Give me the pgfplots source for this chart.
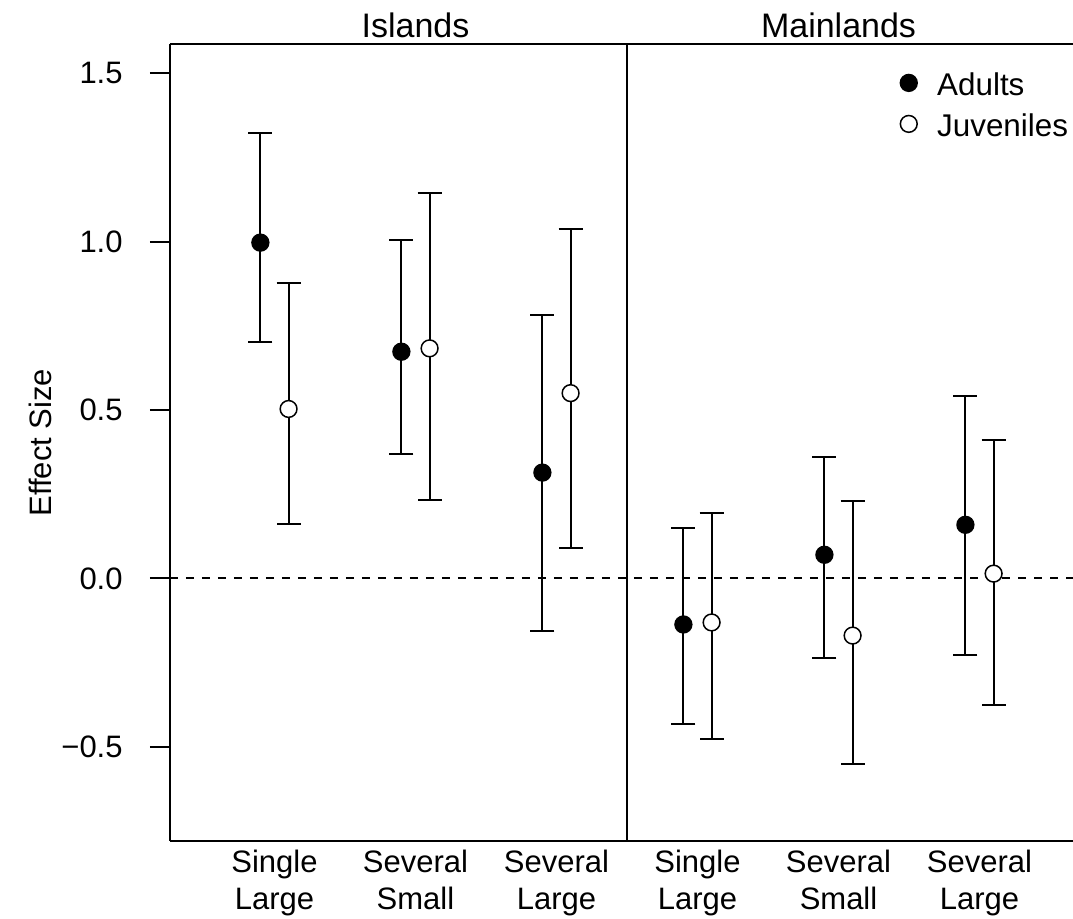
\documentclass[border=0pt]{standalone}
\usepackage{fontspec}
\setmainfont{Liberation Sans}
\usepackage{pgfplots}
\pgfplotsset{compat=1.18}

\begin{document}
\fontsize{15.5pt}{18.5pt}\selectfont
\begin{tikzpicture}
\begin{axis}[
    name=ax,
    at={(0,0)}, anchor=south west,
    scale only axis,
    width=451.5pt, height=398.35pt,
    xmin=0.259, xmax=6.663,
    ymin=-0.78, ymax=1.586,
    axis x line*=bottom,
    axis y line*=left,
    axis line style={black, line width=1pt},
    xtick={1,2,3,4,5,6},
    xticklabels={{Single\\Large},{Several\\Small},{Several\\Large},{Single\\Large},{Several\\Small},{Several\\Large}},
    xtick style={draw=none},
    xticklabel style={align=center, anchor=north, inner sep=0pt, yshift=5.5pt,
        font=\fontsize{15.5pt}{18.5pt}\selectfont},
    ytick={-0.5,0,0.5,1,1.5},
    yticklabels={−0.5,0.0,0.5,1.0,1.5},
    ytick style={black, line width=1pt},
    major tick length=10pt,
    tick align=outside,
    yticklabel style={anchor=east, inner sep=0pt, xshift=-13.5pt},
    clip=false,
    legend style={draw=none, fill=none, at={(axis cs:5.365,1.5156)}, anchor=north west,
        row sep=9pt, column sep=0pt,
        nodes={inner sep=0pt, text height=11.5pt, text depth=0pt, font=\fontsize{15.7pt}{18pt}\selectfont}},
    legend cell align=left,
    legend image code/.code={\draw[#1] plot coordinates {(0pt,0.5pt)}; \path (-6pt,0pt) (14pt,0pt);},
]

% zero line
\addplot[black, line width=1pt, dash pattern=on 4pt off 4pt, forget plot] coordinates {(0.259,0) (6.663,0)};
% panel divider
\addplot[black, line width=1pt, forget plot] coordinates {(3.5,-0.78) (3.5,1.586)};

% adults
\addplot[
    only marks, mark=*, mark size=4.2pt,
    mark options={fill=black, draw=black, line width=0.75pt},
    error bars/.cd, y dir=both, y explicit,
    error bar style={line width=1pt, black},
    error mark options={rotate=90, mark size=6pt, line width=1pt, black}
] coordinates {
    (0.9,  0.997) += (0,0.326) -= (0,0.296)
    (1.9,  0.673) += (0,0.333) -= (0,0.304)
    (2.9,  0.314) += (0,0.467) -= (0,0.470)
    (3.9, -0.137) += (0,0.286) -= (0,0.295)
    (4.9,  0.070) += (0,0.289) -= (0,0.308)
    (5.9,  0.159) += (0,0.383) -= (0,0.387)
};
\addlegendentry{Adults}

% juveniles
\addplot[
    only marks, mark=*, mark size=4.2pt,
    mark options={fill=white, draw=black, line width=0.75pt},
    error bars/.cd, y dir=both, y explicit,
    error bar style={line width=1pt, black},
    error mark options={rotate=90, mark size=6pt, line width=1pt, black}
] coordinates {
    (1.1,  0.503) += (0,0.373) -= (0,0.342)
    (2.1,  0.683) += (0,0.460) -= (0,0.450)
    (3.1,  0.550) += (0,0.486) -= (0,0.461)
    (4.1, -0.131) += (0,0.325) -= (0,0.346)
    (5.1, -0.170) += (0,0.400) -= (0,0.382)
    (6.1,  0.014) += (0,0.397) -= (0,0.390)
};
\addlegendentry{Juveniles}

\draw[black, line width=1pt] (rel axis cs:0,1) -- (rel axis cs:1,1);
\node[anchor=base, inner sep=0pt, font=\fontsize{17pt}{20pt}\selectfont] at ([yshift=3.5pt]axis cs:2,1.586) {Islands};
\node[anchor=base, inner sep=0pt, font=\fontsize{17pt}{20pt}\selectfont] at ([yshift=3.5pt]axis cs:5,1.586) {Mainlands};
\end{axis}
\node[rotate=90, anchor=center, inner sep=0pt] at ([xshift=-65pt]ax.west) {Effect Size};
\pgfresetboundingbox
\useasboundingbox (-85pt,-39pt) rectangle (451.5pt,420.5pt);
\end{tikzpicture}
\end{document}
